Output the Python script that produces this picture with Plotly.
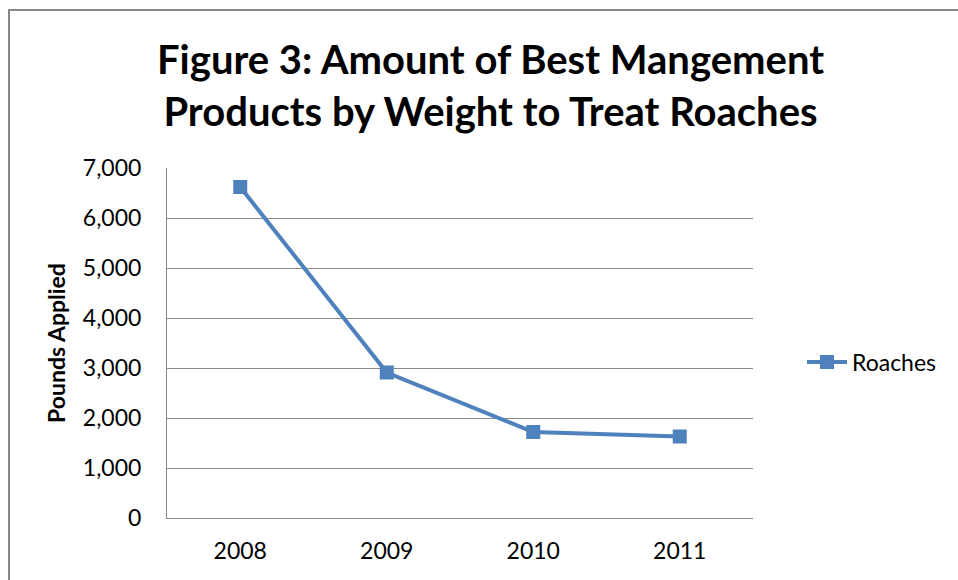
import plotly.graph_objects as go

years = ["2008", "2009", "2010", "2011"]
roaches = [6620, 2910, 1720, 1630]
y_ticks = [0, 1000, 2000, 3000, 4000, 5000, 6000, 7000]
y_tick_labels = ["0", "1,000", "2,000", "3,000", "4,000", "5,000", "6,000", "7,000"]

W, H = 958, 580
L, R, T, B = 167, 753, 168, 518

def px_x(p):
    return (p - L) / (R - L)

def px_y(p):
    return (B - p) / (B - T)

fig = go.Figure()
fig.add_trace(go.Scatter(
    x=years, y=roaches, name="Roaches", mode="lines+markers",
    line=dict(color="#4F81BD", width=4),
    marker=dict(symbol="square", size=14, color="#4F81BD"),
))

font = "Lato, 'Open Sans', sans-serif"
fig.update_layout(
    width=W, height=H,
    margin=dict(l=L, r=W - R, t=T, b=H - B),
    paper_bgcolor="white", plot_bgcolor="white",
    font=dict(family=font, color="black"),
    showlegend=True,
    legend=dict(x=px_x(802), y=px_y(362), xanchor="left", yanchor="middle",
                font=dict(size=23, family=font), bgcolor="rgba(0,0,0,0)",
                itemwidth=40),
    xaxis=dict(type="category", range=[-0.5, 3.5], showgrid=False,
               showline=True, linecolor="#888888", linewidth=1,
               ticks="", tickfont=dict(size=23), ticklabelstandoff=12),
    yaxis=dict(range=[0, 7000], tickvals=y_ticks, ticktext=y_tick_labels,
               showgrid=True, gridcolor="#888888", gridwidth=1,
               showline=True, linecolor="#888888", linewidth=1,
               zeroline=False, ticks="", tickfont=dict(size=23),
               ticklabelstandoff=20,
               title=dict(text="<b>Pounds Applied</b>", font=dict(size=23), standoff=10)),
    annotations=[dict(
        text="<b>Figure 3: Amount of Best Mangement<br>Products by Weight to Treat Roaches</b>",
        xref="paper", yref="paper", x=px_x(490), y=px_y(85),
        xanchor="center", yanchor="middle", showarrow=False,
        font=dict(size=40, family=font), align="center",
    )],
    shapes=[dict(type="rect", xref="paper", yref="paper",
                 x0=px_x(9), x1=px_x(1010), y0=px_y(620), y1=px_y(10),
                 line=dict(color="#868686", width=2), layer="below")],
)

fig.write_html(
    "out.html",
    config={"displayModeBar": False},
    post_script="document.body.style.margin='0';document.body.style.overflow='hidden';",
)
